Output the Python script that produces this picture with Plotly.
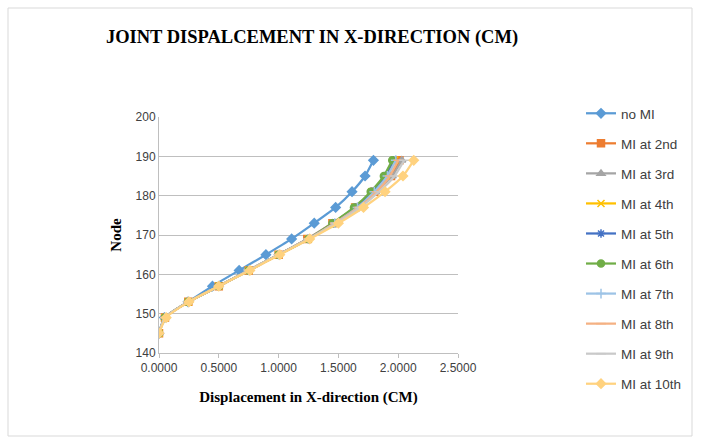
import plotly.graph_objects as go

nodes = [145, 149, 153, 157, 161, 165, 169, 173, 177, 181, 185, 189]

no_mi = [0.0, 0.045, 0.243, 0.447, 0.670, 0.894, 1.109, 1.298, 1.477, 1.614, 1.723, 1.793]
mi_2nd = [0.0, 0.05, 0.245, 0.50, 0.75, 1.00, 1.24, 1.45, 1.64, 1.80, 1.94, 2.01]
mi_3rd = [0.0, 0.05, 0.245, 0.50, 0.75, 1.00, 1.24, 1.45, 1.65, 1.81, 1.95, 2.03]
mi_4th = [0.0, 0.05, 0.245, 0.50, 0.75, 1.00, 1.25, 1.46, 1.64, 1.78, 1.90, 1.97]
mi_5th = [0.0, 0.05, 0.245, 0.50, 0.75, 1.00, 1.25, 1.46, 1.64, 1.78, 1.89, 1.96]
mi_6th = [0.0, 0.05, 0.245, 0.50, 0.75, 1.00, 1.25, 1.45, 1.63, 1.77, 1.88, 1.95]
mi_7th = [0.0, 0.05, 0.245, 0.50, 0.75, 1.00, 1.25, 1.47, 1.66, 1.80, 1.91, 1.98]
mi_8th = [0.0, 0.05, 0.245, 0.50, 0.75, 1.00, 1.25, 1.47, 1.67, 1.82, 1.93, 2.00]
mi_9th = [0.0, 0.05, 0.245, 0.50, 0.75, 1.00, 1.25, 1.48, 1.68, 1.84, 1.97, 2.05]
mi_10th = [0.0, 0.06, 0.25, 0.50, 0.76, 1.01, 1.26, 1.50, 1.71, 1.89, 2.04, 2.13]

series_names = ["no MI", "MI at 2nd", "MI at 3rd", "MI at 4th", "MI at 5th",
                "MI at 6th", "MI at 7th", "MI at 8th", "MI at 9th", "MI at 10th"]
series_values = [no_mi, mi_2nd, mi_3rd, mi_4th, mi_5th, mi_6th, mi_7th, mi_8th, mi_9th, mi_10th]
colors = ["#5B9BD5", "#ED7D31", "#A5A5A5", "#FFC000", "#4472C4",
          "#70AD47", "#9DC3E6", "#F4B183", "#C9C9C9", "#FFD27F"]
symbols = ["diamond", "square", "triangle-up", "x-thin-open", "asterisk-open",
           "circle", "cross-thin-open", "line-ew-open", "line-ew-open", "diamond"]

x_ticks = [0.0, 0.5, 1.0, 1.5, 2.0, 2.5]
y_ticks = [140, 150, 160, 170, 180, 190, 200]

fig = go.Figure()
for i, (name, vals) in enumerate(zip(series_names, series_values)):
    fig.add_trace(go.Scatter(
        x=vals, y=nodes, name=name, mode="lines+markers",
        line=dict(color=colors[i], width=2.25, shape="spline", smoothing=0.5),
        marker=dict(symbol=symbols[i], size=7, color=colors[i],
                    line=dict(color=colors[i], width=1.5)),
        legendgroup=f"g{i}",
    ))

W, H = 702, 437
L, R, T, B = 159, 244, 117, 84
pw, ph = W - L - R, H - T - B

def px(xp):
    return (xp - L) / pw

def py(yp):
    return 1 - (yp - T) / ph

serif = "Liberation Serif, Times New Roman, serif"

fig.update_layout(
    width=W, height=H,
    margin=dict(l=L, r=R, t=T, b=B),
    paper_bgcolor="white", plot_bgcolor="white",
    title=dict(text="<b>JOINT DISPALCEMENT IN X-DIRECTION (CM)</b>",
               font=dict(family=serif, size=18.5, color="#000"),
               x=(312 - L) / pw, xanchor="center", xref="paper",
               y=1 - 37 / H, yanchor="middle"),
    font=dict(family="Liberation Sans, Arial, sans-serif", size=12, color="#404040"),
    xaxis=dict(range=[0, 2.5], tickvals=x_ticks, tickformat=".4f",
               showgrid=False, zeroline=False, showline=True, linecolor="#BFBFBF",
               ticks="outside", ticklen=4, tickcolor="#BFBFBF",
               tickfont=dict(size=12, color="#404040"),
               title=dict(text="<b>Displacement in X-direction (CM)</b>",
                          font=dict(family=serif, size=15, color="#000"),
                          standoff=17)),
    yaxis=dict(range=[140, 200], tickvals=y_ticks, showgrid=True, gridcolor="#BFBFBF",
               gridwidth=1, zeroline=False, showline=True, linecolor="#BFBFBF",
               ticks="", tickfont=dict(size=12, color="#404040"),
               title=dict(text="<b>Node</b>",
                          font=dict(family=serif, size=15, color="#000"),
                          standoff=10)),
    legend=dict(x=px(581), y=py(98), xanchor="left", yanchor="top",
                traceorder="grouped", tracegroupgap=9.5, maxheight=420,
                font=dict(size=13.5, color="#404040"), bgcolor="rgba(0,0,0,0)",
                itemwidth=30),
    shapes=[dict(type="rect", xref="paper", yref="paper",
                 x0=px(8), x1=px(692), y0=py(436), y1=py(8),
                 line=dict(color="#D9D9D9", width=1), layer="below")],
)

fig.write_html("out.html")
